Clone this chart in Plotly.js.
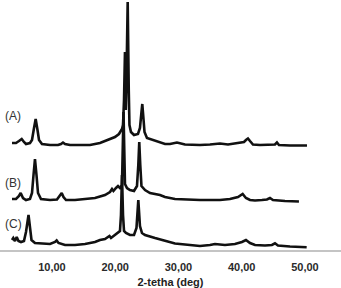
<!DOCTYPE html>
<html>
<head>
<meta charset="utf-8">
<script src="https://cdn.plot.ly/plotly-3.0.1.min.js"></script>
<style>html,body{margin:0;padding:0;background:#fff;}#chart{width:341px;height:288px;}</style>
</head>
<body>
<div id="chart"></div>
<script>
// 2-theta (deg) and stacked intensities (arbitrary units, offsets included)
const xA = [3.68,4.31,4.78,5.21,5.57,5.89,6.52,6.84,7.16,7.42,7.71,7.95,8.42,9.69,10.95,11.42,11.74,12.06,12.85,14.43,16.01,17.59,19.17,19.96,20.59,20.91,21.07,21.23,21.39,21.54,21.67,21.78,21.97,22.14,22.25,22.49,22.97,23.60,23.91,24.15,24.28,24.42,24.63,25.02,26.29,27.87,28.66,29.76,31.03,33.40,34.98,36.56,37.83,39.41,40.36,40.67,40.99,41.31,41.78,42.89,44.47,45.26,45.57,45.89,47.63,49.21,50.32];
const yA = [107,107,109,111,108,106,107,110,122,131,120,110,106,105,105,106,107.5,106,105,105,105,107,111,113,116,119,121,125,150,198,140,170,248,160,125,118,115,116,122,138,146,135,118,112,109,106,106,107.5,105.5,105,105.5,106.5,105.5,107,108,110,111.5,109,105.5,105,105,105.5,107.5,105,104.5,104.5,104.5];

const xB = [3.68,4.31,4.78,5.05,5.42,5.89,6.52,6.84,7.08,7.31,7.55,7.79,8.26,9.69,10.79,11.27,11.54,11.82,12.22,13.64,15.22,16.80,18.38,19.17,19.49,19.72,20.12,20.44,20.75,21.07,21.31,21.54,21.86,22.33,22.97,23.44,23.65,23.80,23.96,24.15,24.71,25.50,27.08,27.87,29.45,31.82,33.40,34.98,36.56,38.14,39.41,40.15,40.67,41.31,42.10,43.20,43.99,44.47,44.94,46.84,49.05];
const yB = [51,51,54,57,52,50,51,57,75,91,75,57,51,50,50.5,54,57,53,50,50,51,52,55,58,61,59,62,64,62,65,138,66,62,60,59,64,85,108,85,64,60,57,55,53,51,50,50,50,50,51,53,56,52,50,49.5,50,50.5,52,50,49,48.5];

const xC = [3.68,3.88,4.15,4.42,4.70,5.10,5.57,5.89,6.29,6.52,6.76,7.31,8.89,9.69,10.48,10.74,11.03,12.06,13.64,15.22,16.80,17.59,18.38,18.86,19.09,19.33,19.96,20.44,20.75,20.91,21.07,21.23,21.39,21.70,22.33,22.97,23.36,23.65,23.91,24.23,24.71,26.29,27.87,29.45,31.82,33.40,34.98,35.77,37.35,38.93,40.04,40.67,41.31,42.10,43.68,44.78,45.26,45.73,47.63,49.21,50.27];
const yC = [10,12,9,13,9,8,9,18,35,22,10,7,6,6,8,9.5,7,5,5,6,8,10,11,13,14,12,15,17,19,35,75,35,19,17,15,15,22,50,24,17,15,12,9,6.5,5,4,5,6,5,6,8,10,7,5,4.5,5,6.7,4.5,3.5,3,2.7];

const seriesLabels = ['(A)','(B)','(C)'];
const labelX = 3.84;
const labelY = [134, 67.5, 26];

const lineStyle = {color:'#111111', width:2.6};
const traces = [
  {x:xA, y:yA, name:seriesLabels[0], mode:'lines', line:lineStyle, hoverinfo:'none'},
  {x:xB, y:yB, name:seriesLabels[1], mode:'lines', line:lineStyle, hoverinfo:'none'},
  {x:xC, y:yC, name:seriesLabels[2], mode:'lines', line:lineStyle, hoverinfo:'none'}
];

const annotations = seriesLabels.map((t,i)=>({
  x: labelX, y: labelY[i], xref:'x', yref:'y', text:t, showarrow:false,
  xanchor:'center', yanchor:'middle',
  font:{family:'Liberation Sans, Arial, sans-serif', size:12, color:'#333333'}
}));

const layout = {
  width:341, height:288,
  margin:{l:0, r:0, t:0, b:38, pad:0},
  paper_bgcolor:'#ffffff', plot_bgcolor:'#ffffff',
  showlegend:false,
  separators:',.',
  xaxis:{
    range:[1.78, 55.7], dtick:10, tick0:0, tickformat:'.2f',
    showgrid:false, zeroline:false,
    ticks:'outside', ticklen:6, tickcolor:'rgba(0,0,0,0)',
    showline:true, linecolor:'#c4c4c4', linewidth:2,
    tickfont:{family:'Liberation Sans, Arial, sans-serif', size:11, color:'#2a2a2a', weight:'bold'},
    title:{text:'2-tetha (deg)', standoff:7,
      font:{family:'Liberation Sans, Arial, sans-serif', size:11, color:'#222222', weight:'bold'}},
    fixedrange:true
  },
  yaxis:{range:[0,250], visible:false, fixedrange:true},
  annotations: annotations
};

Plotly.newPlot('chart', traces, layout, {displayModeBar:false, staticPlot:true});
</script>
</body>
</html>
